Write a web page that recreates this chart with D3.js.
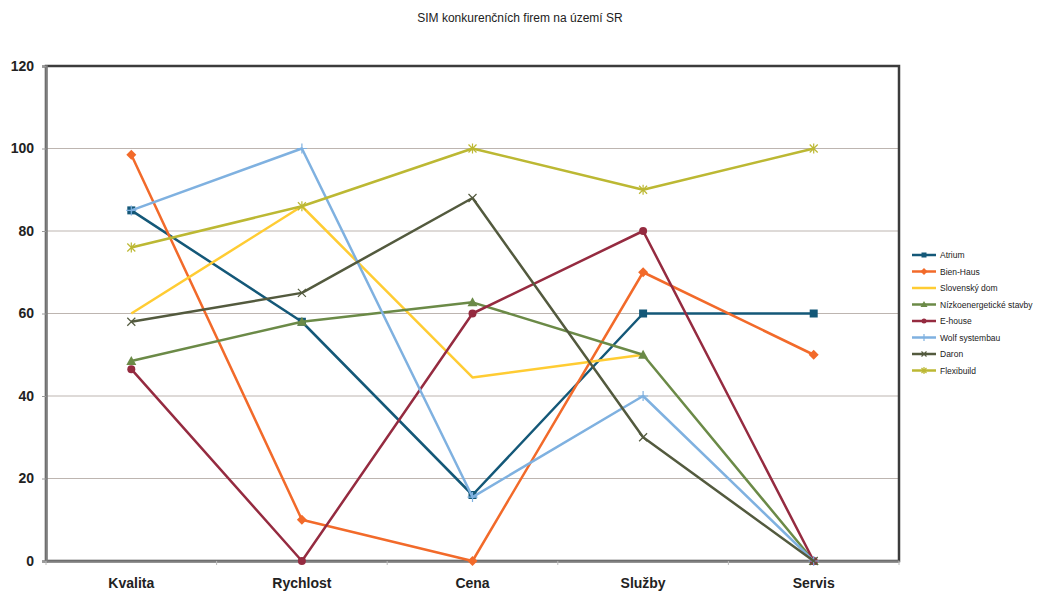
<!DOCTYPE html>
<html>
<head>
<meta charset="utf-8">
<script src="https://cdn.jsdelivr.net/npm/d3@7"></script>
<style>
  body { margin: 0; background: #fff; }
  text { font-family: "Liberation Sans", Arial, sans-serif; }
</style>
</head>
<body>
<div id="chart"></div>
<script>
const categories = ["Kvalita", "Rychlost", "Cena", "Služby", "Servis"];
const yTicks = [0, 20, 40, 60, 80, 100, 120];

const seriesNames = ["Atrium", "Bien-Haus", "Slovenský dom", "Nízkoenergetické stavby",
  "E-house", "Wolf systembau", "Daron", "Flexibuild"];
const atrium = [85, 58, 16, 60, 60];
const bienHaus = [98.5, 10, 0, 70, 50];
const slovenskyDom = [60, 86, 44.5, 50, null];
const nizkoenergeticke = [48.5, 58, 62.7, 50, 0];
const eHouse = [46.5, 0, 60, 80, 0];
const wolf = [85, 100, 15.5, 40, 0];
const daron = [58, 65, 88, 30, 0];
const flexibuild = [76, 86, 100, 90, 100];

const seriesValues = [atrium, bienHaus, slovenskyDom, nizkoenergeticke, eHouse, wolf, daron, flexibuild];
const colors = ["#145878", "#f26a2a", "#ffcc33", "#6b8a47", "#952b40", "#7fb1e0", "#535a3e", "#bcb833"];
const markers = ["square", "diamond", "none", "triangle", "circle", "plus", "cross", "star"];

const width = 1040, height = 591;
const margin = { top: 66, right: 141, bottom: 30, left: 46 };
const w = width - margin.left - margin.right;
const h = height - margin.top - margin.bottom;

const svg = d3.select("#chart").append("svg")
  .attr("width", width)
  .attr("height", height);

svg.append("text")
  .attr("x", 520)
  .attr("y", 22)
  .attr("text-anchor", "middle")
  .style("font-size", "12px")
  .style("fill", "#222")
  .text("SIM konkurenčních firem na území SR");

const g = svg.append("g")
  .attr("transform", `translate(${margin.left},${margin.top})`);

const x = d3.scaleBand().domain(categories).range([0, w]);
const y = d3.scaleLinear().domain([0, 120]).range([h, 0]);

// gridlines
g.selectAll("line.grid")
  .data(yTicks.filter(t => t > 0 && t < 120))
  .enter().append("line")
  .attr("class", "grid")
  .attr("x1", 0).attr("x2", w)
  .attr("y1", d => y(d)).attr("y2", d => y(d))
  .attr("stroke", "#bdb5b0")
  .attr("stroke-width", 1);

// plot frame (top and right dark)
g.append("rect")
  .attr("x", 0).attr("y", 0)
  .attr("width", w).attr("height", h)
  .attr("fill", "none")
  .attr("stroke", "#3c3c3c")
  .attr("stroke-width", 2.5);

// y axis
const yAxis = g.append("g")
  .call(d3.axisLeft(y).tickValues(yTicks).tickSize(4).tickPadding(8));
yAxis.select(".domain").attr("stroke", "#7f7f7f").attr("stroke-width", 2.5);
yAxis.selectAll(".tick line").attr("stroke", "#999");
yAxis.selectAll("text")
  .style("font-size", "14px")
  .style("font-weight", "bold")
  .style("font-family", "Liberation Sans, Arial, sans-serif")
  .attr("fill", "#222");

// x axis
const xAxis = g.append("g")
  .attr("transform", `translate(0,${h})`)
  .call(d3.axisBottom(x).tickSize(0).tickPadding(17));
xAxis.select(".domain").attr("stroke", "#7f7f7f").attr("stroke-width", 2.5);
xAxis.selectAll("text")
  .style("font-size", "14px")
  .style("font-weight", "bold")
  .style("font-family", "Liberation Sans, Arial, sans-serif")
  .attr("fill", "#222");
g.selectAll("line.xtick")
  .data(d3.range(categories.length + 1))
  .enter().append("line")
  .attr("class", "xtick")
  .attr("x1", i => i * x.step()).attr("x2", i => i * x.step())
  .attr("y1", h).attr("y2", h + 4)
  .attr("stroke", "#bbb");

function drawMarker(sel, type, color, size) {
  const s = size;
  if (type === "square") {
    sel.append("rect").attr("x", -s).attr("y", -s).attr("width", 2 * s).attr("height", 2 * s).attr("fill", color);
  } else if (type === "diamond") {
    sel.append("path").attr("d", `M0,${-s - 1}L${s + 1},0L0,${s + 1}L${-s - 1},0Z`).attr("fill", color);
  } else if (type === "triangle") {
    sel.append("path").attr("d", `M0,${-s - 1}L${s + 1},${s}L${-s - 1},${s}Z`).attr("fill", color);
  } else if (type === "circle") {
    sel.append("circle").attr("r", s).attr("fill", color);
  } else if (type === "plus") {
    sel.append("path").attr("d", `M${-s - 1},0H${s + 1}M0,${-s - 1}V${s + 1}`).attr("stroke", color).attr("stroke-width", 1.2);
  } else if (type === "cross") {
    sel.append("path").attr("d", `M${-s},${-s}L${s},${s}M${-s},${s}L${s},${-s}`).attr("stroke", color).attr("stroke-width", 1.2);
  } else if (type === "star") {
    sel.append("path").attr("d", `M${-s},${-s}L${s},${s}M${-s},${s}L${s},${-s}M0,${-s - 1}V${s + 1}`).attr("stroke", color).attr("stroke-width", 1.2);
  }
}

const line = d3.line()
  .defined(d => d.v !== null)
  .x(d => x(d.c) + x.bandwidth() / 2)
  .y(d => y(d.v));

seriesValues.forEach((vals, si) => {
  const pts = vals.map((v, i) => ({ c: categories[i], v: v }));
  g.append("path")
    .datum(pts)
    .attr("fill", "none")
    .attr("stroke", colors[si])
    .attr("stroke-width", 2.5)
    .attr("stroke-linejoin", "round")
    .attr("d", line);
  pts.filter(p => p.v !== null).forEach(p => {
    const m = g.append("g")
      .attr("transform", `translate(${x(p.c) + x.bandwidth() / 2},${y(p.v)})`);
    drawMarker(m, markers[si], colors[si], 4);
  });
});

// legend
const legend = svg.append("g").attr("transform", "translate(912,255)");
seriesNames.forEach((name, i) => {
  const row = legend.append("g").attr("transform", `translate(0,${i * 16.5})`);
  row.append("line")
    .attr("x1", 0).attr("x2", 24).attr("y1", 0).attr("y2", 0)
    .attr("stroke", colors[i]).attr("stroke-width", 2.5);
  const m = row.append("g").attr("transform", "translate(12,0)");
  drawMarker(m, markers[i], colors[i], 2.5);
  row.append("text")
    .attr("x", 28).attr("y", 3)
    .style("font-size", "8.5px")
    .attr("fill", "#222")
    .text(name);
});
</script>
</body>
</html>
